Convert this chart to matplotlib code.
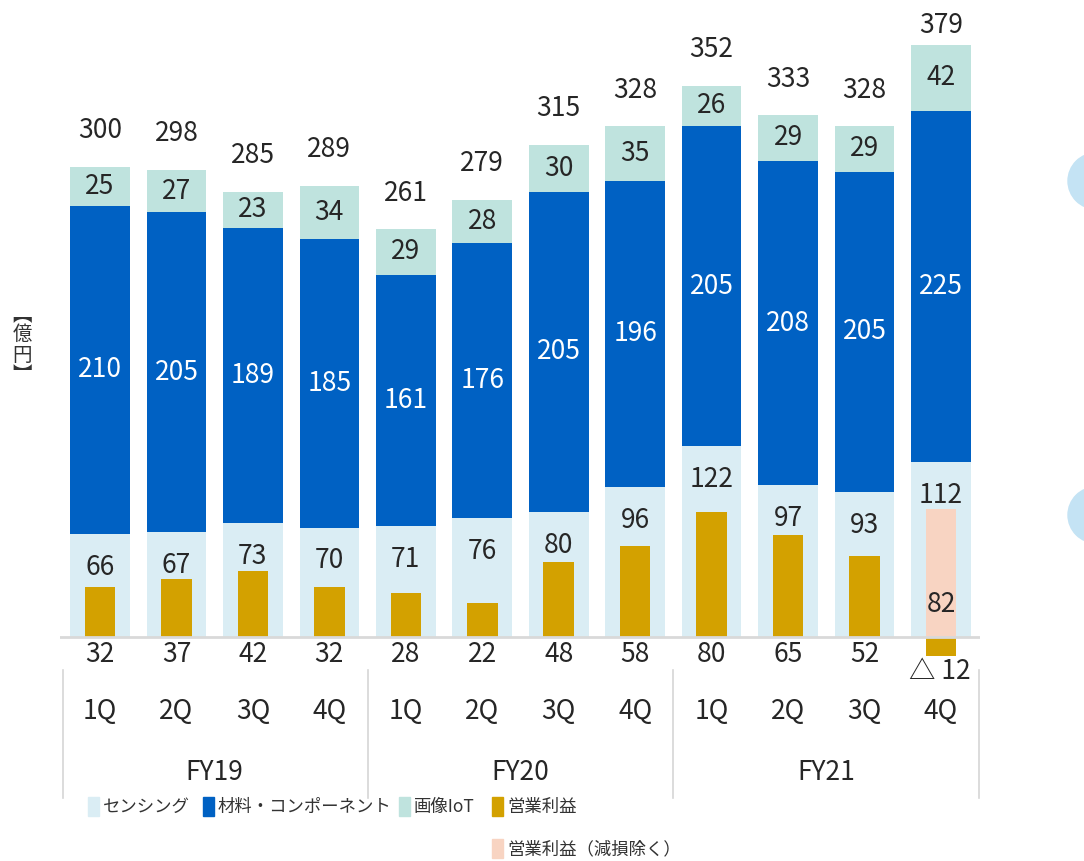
import matplotlib
matplotlib.use('Agg')
import matplotlib.pyplot as plt
from matplotlib.patches import Rectangle, Ellipse
import numpy as np

plt.rcParams['font.family'] = ['Noto Sans CJK JP', 'DejaVu Sans']

quarters = ['1Q', '2Q', '3Q', '4Q'] * 3
fiscal_years = ['FY19', 'FY20', 'FY21']
sensing = [66, 67, 73, 70, 71, 76, 80, 96, 122, 97, 93, 112]
materials = [210, 205, 189, 185, 161, 176, 205, 196, 205, 208, 205, 225]
imaging = [25, 27, 23, 34, 29, 28, 30, 35, 26, 29, 29, 42]
totals = [300, 298, 285, 289, 261, 279, 315, 328, 352, 333, 328, 379]
op_profit = [32, 37, 42, 32, 28, 22, 48, 58, 80, 65, 52, -12]
op_profit_ex_impairment = 82   # FY21 4Q only

legend_labels = ['センシング', '材料・コンポーネント', '画像IoT', '営業利益', '営業利益（減損除く）']

C_SENS = '#daedf4'
C_MAT = '#0061c3'
C_IMG = '#bfe3de'
C_OP = '#d3a100'
C_OPX = '#f8d4c2'
TXT = '#262626'
W, H = 1084, 861


def main():
    fig = plt.figure(figsize=(W / 100, H / 100), dpi=100)

    # axes: x=0 at px 100, 76.45 px per bar, y=0 at px 637, 1.562 px per unit
    ax = fig.add_axes([60 / W, 1 - 668.2 / H, 920 / W, 656 / H])
    ax.set_xlim(-0.523, 11.51)
    ax.set_ylim(-20, 400)
    ax.axis('off')

    x = np.arange(len(totals))
    s = np.array(sensing)
    m = np.array(materials)
    im = np.array(imaging)

    ax.bar(x, s, width=0.78, color=C_SENS, zorder=1)
    ax.bar(x, m, bottom=s, width=0.78, color=C_MAT, zorder=1)
    ax.bar(x, im, bottom=s + m, width=0.78, color=C_IMG, zorder=1)
    ax.bar(x, op_profit, width=0.4, color=C_OP, zorder=2)
    ax.bar(x[-1], op_profit_ex_impairment, width=0.4, color=C_OPX, zorder=2)
    ax.axhline(0, color='#d9d9d9', lw=2, zorder=3)

    fs = 19
    for i in x:
        top = s[i] + m[i] + im[i]
        off = 14 if i == x[-1] else 26
        ax.annotate(str(totals[i]), (i, top), xytext=(0, off), textcoords='offset points',
                    ha='center', va='center', fontsize=fs, color=TXT)
        ax.text(i, s[i] + m[i] + im[i] / 2, str(im[i]), ha='center', va='center',
                fontsize=fs, color=TXT)
        ax.text(i, s[i] + m[i] / 2, str(m[i]), ha='center', va='center',
                fontsize=fs, color='white')
        ax.annotate(str(s[i]), (i, s[i]), xytext=(0, -24), textcoords='offset points',
                    ha='center', va='center', fontsize=fs, color=TXT)
        if op_profit[i] >= 0:
            ax.text(i, -11.5, str(op_profit[i]), ha='center', va='center',
                    fontsize=fs, color=TXT, clip_on=False)
        else:
            ax.text(i - 0.02, -22, '△ ' + str(abs(op_profit[i])), ha='center', va='center',
                    fontsize=fs, color=TXT, clip_on=False)
        ax.text(i, -48, quarters[i], ha='center', va='center', fontsize=fs,
                color=TXT, clip_on=False)

    ax.text(x[-1], 21, str(op_profit_ex_impairment), ha='center', va='center',
            fontsize=fs, color=TXT)

    for k, fy in enumerate(fiscal_years):
        ax.text(4 * k + 1.5, -87, fy, ha='center', va='center', fontsize=fs,
                color=TXT, clip_on=False)
    for sx in [-0.49, 3.5, 7.5, 11.5]:
        ax.plot([sx, sx], [-21, -103], color='#d6d6d6', lw=1.2, clip_on=False)

    # unit label (vertical)
    fig.text(22 / W, 1 - 345 / H, '︻\n億\n円\n︼', ha='center', va='center',
             fontsize=14, color='#333333', linespacing=0.95)

    # legend drawn by hand
    items = [(88, 806, C_SENS), (203, 806, C_MAT), (399, 806, C_IMG),
             (492, 806, C_OP), (492, 848, C_OPX)]
    for (lx, ly, col), lab in zip(items, legend_labels):
        fig.add_artist(Rectangle((lx / W, 1 - (ly + 10) / H), 11 / W, 19 / H,
                                 transform=fig.transFigure, color=col))
        fig.text((lx + 15) / W, 1 - (ly + 1) / H, lab, ha='left', va='center',
                 fontsize=12.5, color='#333333')

    # decorative circles at the right edge
    for cy in [181, 515]:
        fig.add_artist(Ellipse((1096 / W, 1 - cy / H), 56 / W, 56 / H,
                               transform=fig.transFigure, color='#c4e3f4'))

    fig.savefig('out.png', dpi=100)


if __name__ == '__main__':
    main()
